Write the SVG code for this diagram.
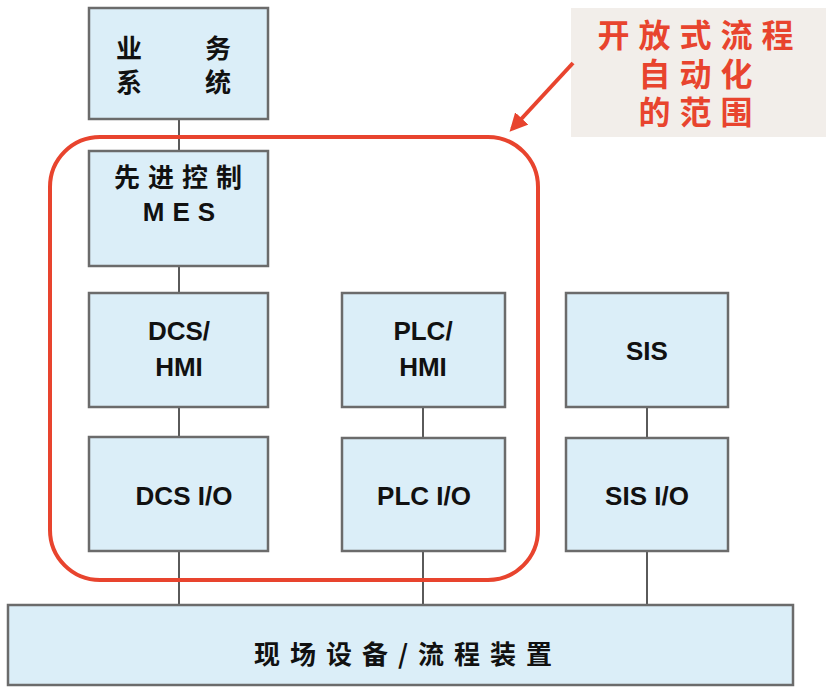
<svg xmlns="http://www.w3.org/2000/svg" width="834" height="688" viewBox="0 0 834 688">
<style>
.box{fill:#dbeef8;stroke:#6b6b6b;stroke-width:2.5}
.lbl{font-family:"Liberation Sans",Arial,sans-serif;font-weight:bold;font-size:26px;fill:#111;text-anchor:middle}
.cjk{font-family:"Noto Sans CJK SC","Liberation Sans",sans-serif;font-weight:bold;font-size:26px;fill:#111;text-anchor:middle}
.red{font-family:"Noto Sans CJK SC",sans-serif;font-weight:bold;font-size:32px;fill:#e8442e;text-anchor:middle;letter-spacing:9px}
.conn{stroke:#5a5a5a;stroke-width:2;fill:none}
</style>
<defs>
<marker id="ah" viewBox="0 0 10 10" refX="8" refY="5" markerWidth="4.5" markerHeight="4.5" orient="auto">
<path d="M0,0 L10,5 L0,10 z" fill="#e8442e"/>
</marker>
</defs>
<rect width="834" height="688" fill="#fff"/>
<g id="connectors">
<line class="conn" x1="179" y1="120" x2="179" y2="151"/>
<line class="conn" x1="179" y1="266" x2="179" y2="293"/>
<line class="conn" x1="179" y1="407" x2="179" y2="437"/>
<line class="conn" x1="179" y1="551" x2="179" y2="605"/>
<line class="conn" x1="423" y1="407" x2="423" y2="438"/>
<line class="conn" x1="423" y1="551" x2="423" y2="605"/>
<line class="conn" x1="647" y1="407" x2="647" y2="438"/>
<line class="conn" x1="647" y1="551" x2="647" y2="605"/>
</g>
<g id="biz">
<rect class="box" x="89" y="8" width="179" height="111"/>
<text class="cjk" x="129" y="58" font-size="28">业</text><text class="cjk" x="218" y="58" font-size="28">务</text>
<text class="cjk" x="129" y="92" font-size="28">系</text><text class="cjk" x="218" y="92" font-size="28">统</text>
</g>
<g id="mes">
<rect class="box" x="89" y="151" width="179" height="115"/>
<text class="cjk" x="182" y="187" letter-spacing="8">先进控制</text>
<text class="lbl" x="183" y="221" font-size="24" letter-spacing="8">MES</text>
</g>
<g id="dcshmi">
<rect class="box" x="89" y="293" width="179" height="114"/>
<text class="lbl" x="179" y="340">DCS/</text>
<text class="lbl" x="179" y="376">HMI</text>
</g>
<g id="dcsio">
<rect class="box" x="89" y="437" width="179" height="114"/>
<text class="lbl" x="184" y="505">DCS I/O</text>
</g>
<g id="plchmi">
<rect class="box" x="342" y="293" width="163" height="114"/>
<text class="lbl" x="423" y="340">PLC/</text>
<text class="lbl" x="423" y="376">HMI</text>
</g>
<g id="plcio">
<rect class="box" x="342" y="438" width="163" height="113"/>
<text class="lbl" x="424" y="505">PLC I/O</text>
</g>
<g id="sis">
<rect class="box" x="566" y="293" width="162" height="114"/>
<text class="lbl" x="647" y="360">SIS</text>
</g>
<g id="sisio">
<rect class="box" x="566" y="438" width="162" height="113"/>
<text class="lbl" x="647" y="505">SIS I/O</text>
</g>
<g id="field">
<rect class="box" x="8" y="605" width="785" height="80"/>
<text class="cjk" x="408" y="664" letter-spacing="10">现场设备/流程装置</text>
</g>
<g id="scope">
<rect x="50" y="137" width="488" height="443" rx="50" ry="50" fill="none" stroke="#e8442e" stroke-width="4"/>
</g>
<g id="callout">
<rect x="571" y="8" width="255" height="129" fill="#f2eeea"/>
<text class="red" x="700" y="47">开放式流程</text>
<text class="red" x="700" y="86">自动化</text>
<text class="red" x="700" y="124">的范围</text>
<line x1="573" y1="63" x2="512" y2="129" stroke="#e8442e" stroke-width="4" marker-end="url(#ah)"/>
</g>
</svg>
